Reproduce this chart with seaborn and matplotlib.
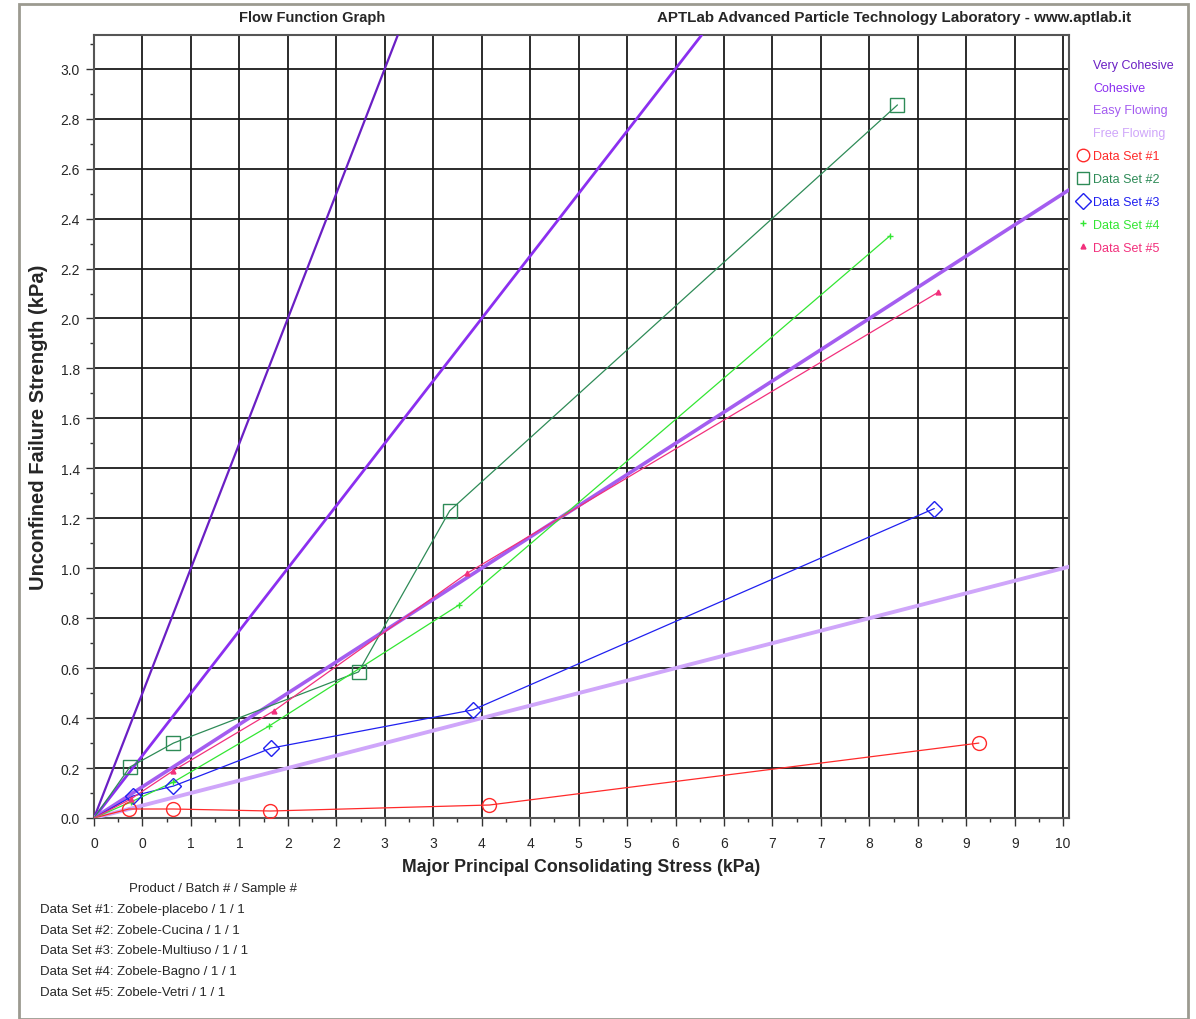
#!/usr/bin/env python3

# Import libraries
import numpy as np
import pandas as pd
import matplotlib as mpl
mpl.use("Agg")
import matplotlib.pyplot as plt
import seaborn as sns
from matplotlib.lines import Line2D
from matplotlib.patches import Rectangle
from matplotlib.ticker import MultipleLocator, FuncFormatter

# Flow function boundaries (ffc = sigma1 / sigma_c)
flow_classes = ["Very Cohesive", "Cohesive", "Easy Flowing", "Free Flowing"]
flow_ffc = [1, 2, 4, 10]
flow_colors = ["#6a1fc4", "#8b2ff0", "#a45df0", "#cfa6fa"]
flow_widths = [1.6, 2.0, 2.6, 2.8]

# Measured data sets: major principal consolidating stress (kPa) / unconfined failure strength (kPa)
set1_sigma1 = [0.36, 0.82, 1.82, 4.08, 9.13]
set1_sigmac = [0.036, 0.036, 0.028, 0.052, 0.30]
set2_sigma1 = [0.37, 0.82, 2.73, 3.67, 8.29]
set2_sigmac = [0.204, 0.30, 0.585, 1.23, 2.855]
set3_sigma1 = [0.40, 0.82, 1.83, 3.91, 8.67]
set3_sigmac = [0.088, 0.128, 0.28, 0.433, 1.239]
set4_sigma1 = [0.38, 0.82, 1.81, 3.77, 8.21]
set4_sigmac = [0.064, 0.144, 0.369, 0.854, 2.33]
set5_sigma1 = [0.38, 0.82, 1.86, 3.85, 8.71]
set5_sigmac = [0.076, 0.19, 0.43, 0.98, 2.105]

set_names = ["Data Set #1", "Data Set #2", "Data Set #3", "Data Set #4", "Data Set #5"]
set_products = ["Zobele-placebo", "Zobele-Cucina", "Zobele-Multiuso", "Zobele-Bagno", "Zobele-Vetri"]
set_colors = ["#ff2a2a", "#2e8b57", "#2020f0", "#33e633", "#f2307c"]
set_markers = ["o", "s", "D", "+", "^"]
set_msizes = [10, 10, 8.5, 4, 3.5]

sns.set_style("white")
plt.rcParams["font.family"] = ["Liberation Sans", "DejaVu Sans"]

fig = plt.figure(figsize=(11.96, 10.20), dpi=100)
ax = fig.add_axes([94 / 1196, 1 - 819 / 1020, (1069 - 94) / 1196, (819 - 36) / 1020])

# Outer panel frame
fig.patches.append(Rectangle((19 / 1196, 0), (1188 - 19) / 1196, 1 - 5 / 1020,
                             transform=fig.transFigure, fill=False,
                             edgecolor="#9c9a90", linewidth=2, zorder=0))

# Flow function reference lines
for name, ffc, col, lw in zip(flow_classes, flow_ffc, flow_colors, flow_widths):
    ax.axline((0, 0), slope=1.0 / ffc, color=col, linewidth=lw, zorder=3)

# Data sets
sets_x = [set1_sigma1, set2_sigma1, set3_sigma1, set4_sigma1, set5_sigma1]
sets_y = [set1_sigmac, set2_sigmac, set3_sigmac, set4_sigmac, set5_sigmac]
for name, xs, ys, col, mk, ms in zip(set_names, sets_x, sets_y, set_colors, set_markers, set_msizes):
    df = pd.DataFrame({"sigma1": [0] + xs, "sigmac": [0] + ys})
    sns.lineplot(data=df, x="sigma1", y="sigmac", ax=ax, sort=False, color=col,
                 linewidth=0.9, zorder=4)
    mfc = col if mk in ["+", "^"] else "none"
    ax.plot(xs, ys, linestyle="none", marker=mk, markersize=ms, markerfacecolor=mfc,
            markeredgecolor=col, markeredgewidth=1.0, zorder=5)

# Axes limits, ticks and grid
ax.set_xlim(0, 10.06)
ax.set_ylim(0, 3.135)
ax.xaxis.set_major_locator(MultipleLocator(0.5))
ax.xaxis.set_minor_locator(MultipleLocator(0.25))
ax.yaxis.set_major_locator(MultipleLocator(0.2))
ax.yaxis.set_minor_locator(MultipleLocator(0.1))
ax.xaxis.set_major_formatter(FuncFormatter(lambda v, p: "{}".format(int(v + 1e-9))))
ax.yaxis.set_major_formatter(FuncFormatter(lambda v, p: "{:.1f}".format(v)))
ax.tick_params(axis="both", which="major", direction="out", length=6, width=1,
               color="#333333", labelsize=10, left=True, bottom=True, pad=4)
ax.tick_params(axis="x", which="major", pad=7)
ax.tick_params(axis="both", which="minor", direction="out", length=3, width=1,
               color="#333333", left=True, bottom=True)
ax.grid(False, which="minor")
ax.xaxis.grid(True, which="major", color="#1a1a1a", linewidth=1.3)
ax.yaxis.grid(True, which="major", color="#1a1a1a", linewidth=1.3)
ax.set_axisbelow(True)
for s in ax.spines.values():
    s.set_color("#555555")
    s.set_linewidth(1.5)

# Labels
ax.set_xlabel("Major Principal Consolidating Stress (kPa)", fontsize=12.8,
              fontweight="bold", labelpad=6)
ax.set_ylabel("Unconfined Failure Strength (kPa)", fontsize=14.5,
              fontweight="bold", labelpad=9)

fig.text(312 / 1196, 1 - 18 / 1020, "Flow Function Graph", ha="center", va="center",
         fontsize=10.5, fontweight="bold")
fig.text(894 / 1196, 1 - 18 / 1020, "APTLab Advanced Particle Technology Laboratory - www.aptlab.it",
         ha="center", va="center", fontsize=10.9, fontweight="bold")

# Legend on the right
handles = [Line2D([], [], linestyle="none") for _ in flow_classes]
for col, mk, ms in zip(set_colors, set_markers, set_msizes):
    mfc = col if mk in ["+", "^"] else "none"
    handles.append(Line2D([], [], linestyle="none", marker=mk, markersize=min(ms, 9),
                          markerfacecolor=mfc, markeredgecolor=col))
leg = ax.legend(handles, flow_classes + set_names, loc="upper left",
                bbox_to_anchor=(1.0, 0.981), frameon=False, fontsize=9,
                labelcolor=flow_colors + set_colors, handlelength=0.9,
                handletextpad=0.35, labelspacing=0.87, borderaxespad=0.3)

# Product table under the chart
fig.text(129 / 1196, 1 - 889 / 1020, "Product / Batch # / Sample #", ha="left", va="center",
         fontsize=9.5)
for i, (name, prod) in enumerate(zip(set_names, set_products)):
    fig.text(40 / 1196, 1 - (910 + i * 20.7) / 1020, "{}: {} / 1 / 1".format(name, prod),
             ha="left", va="center", fontsize=9.5)

fig.savefig("out.png", dpi=100)
